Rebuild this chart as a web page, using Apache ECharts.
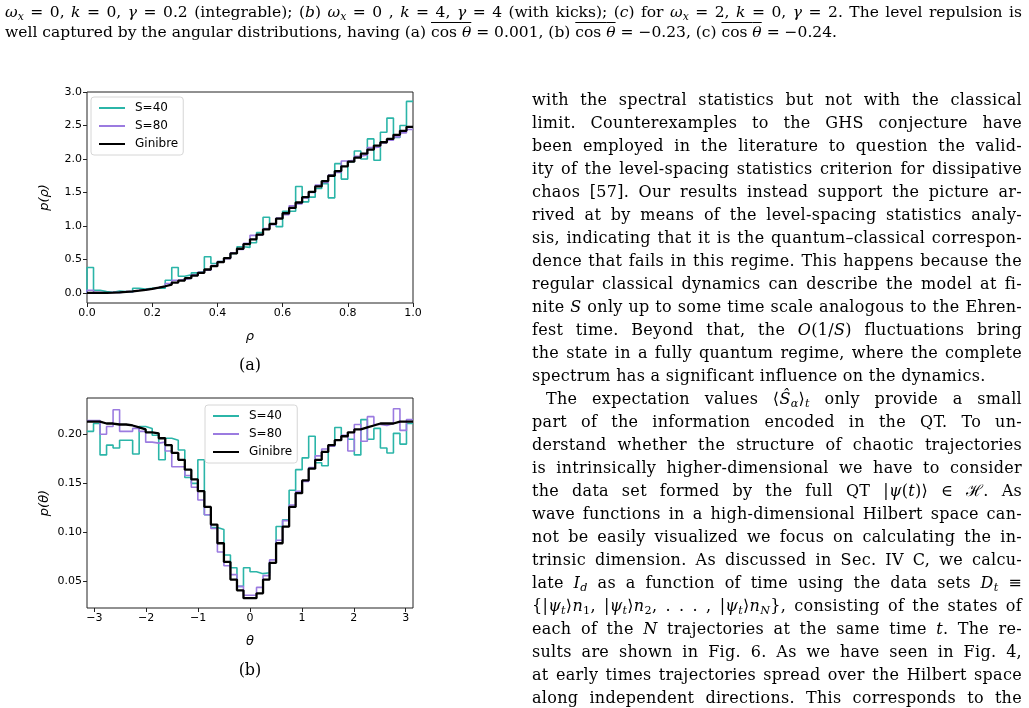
<!DOCTYPE html>
<html>
<head>
<meta charset="utf-8">
<title>p(rho) / p(theta)</title>
<script src="https://cdn.jsdelivr.net/npm/echarts@6/dist/echarts.min.js"></script>
<style>
  body { margin: 0; padding: 0; background: #fff; overflow: hidden; }
  #main { position: absolute; left: 0; top: 0; width: 1029px; height: 708px; }
  .tx { position: absolute; font-family: 'DejaVu Serif', 'Liberation Serif', serif; font-size: 16px; letter-spacing: 0.3px; color: #000; }
  .tx.cap { font-size: 15.5px; letter-spacing: 0; }
  .ln { height: 23px; line-height: 23px; white-space: nowrap; text-align: justify; text-align-last: justify; }
  .cap .ln { height: 20px; line-height: 20px; }
  .ln.last { text-align: left; text-align-last: left; }
  .ln.ind { text-indent: 14px; }
  sub { font-size: 0.7em; line-height: 0; vertical-align: -0.25em; }
  .ov { text-decoration: overline; }
  .lbl { position: absolute; width: 100px; text-align: center; font-family: 'DejaVu Serif', serif; font-size: 16px; }
</style>
</head>
<body>
<div id="main"></div>

<div class="tx cap" style="left:5px; top:2px; width:1017px;">
  <div class="ln"><i>ω<sub>x</sub></i> = 0, <i>k</i> = 0, <i>γ</i> = 0.2 (integrable); (<i>b</i>) <i>ω<sub>x</sub></i> = 0 , <i>k</i> = 4, <i>γ</i> = 4 (with kicks); (<i>c</i>) for <i>ω<sub>x</sub></i> = 2, <i>k</i> = 0, <i>γ</i> = 2. The level repulsion is</div>
  <div class="ln last">well captured by the angular distributions, having (a) <span class="ov">cos <i>θ</i></span> = 0.001, (b) <span class="ov">cos <i>θ</i></span> = −0.23, (c) <span class="ov">cos <i>θ</i></span> = −0.24.</div>
</div>

<div class="tx" style="left:532px; top:88px; width:490px;">
  <div class="ln">with the spectral statistics but not with the classical</div>
  <div class="ln">limit. Counterexamples to the GHS conjecture have</div>
  <div class="ln">been employed in the literature to question the valid-</div>
  <div class="ln">ity of the level-spacing statistics criterion for dissipative</div>
  <div class="ln">chaos [57]. Our results instead support the picture ar-</div>
  <div class="ln">rived at by means of the level-spacing statistics analy-</div>
  <div class="ln">sis, indicating that it is the quantum–classical correspon-</div>
  <div class="ln">dence that fails in this regime. This happens because the</div>
  <div class="ln">regular classical dynamics can describe the model at fi-</div>
  <div class="ln">nite <i>S</i> only up to some time scale analogous to the Ehren-</div>
  <div class="ln">fest time. Beyond that, the <i>O</i>(1/<i>S</i>) fluctuations bring</div>
  <div class="ln">the state in a fully quantum regime, where the complete</div>
  <div class="ln last">spectrum has a significant influence on the dynamics.</div>
  <div class="ln ind">The expectation values ⟨<i>Ŝ<sub>α</sub></i>⟩<sub><i>t</i></sub> only provide a small</div>
  <div class="ln">part of the information encoded in the QT. To un-</div>
  <div class="ln">derstand whether the structure of chaotic trajectories</div>
  <div class="ln">is intrinsically higher-dimensional we have to consider</div>
  <div class="ln">the data set formed by the full QT |<i>ψ</i>(<i>t</i>)⟩ ∈ ℋ. As</div>
  <div class="ln">wave functions in a high-dimensional Hilbert space can-</div>
  <div class="ln">not be easily visualized we focus on calculating the in-</div>
  <div class="ln">trinsic dimension. As discussed in Sec. IV C, we calcu-</div>
  <div class="ln">late <i>I<sub>d</sub></i> as a function of time using the data sets <i>D</i><sub><i>t</i></sub> ≡</div>
  <div class="ln">{|<i>ψ<sub>t</sub></i>⟩<i>n</i><sub>1</sub>, |<i>ψ<sub>t</sub></i>⟩<i>n</i><sub>2</sub>, . . . , |<i>ψ<sub>t</sub></i>⟩<i>n<sub>N</sub></i>}, consisting of the states of</div>
  <div class="ln">each of the <i>N</i> trajectories at the same time <i>t</i>. The re-</div>
  <div class="ln">sults are shown in Fig. 6. As we have seen in Fig. 4,</div>
  <div class="ln">at early times trajectories spread over the Hilbert space</div>
  <div class="ln">along independent directions. This corresponds to the</div>
</div>

<div class="lbl" style="left:200px; top:355px;">(a)</div>
<div class="lbl" style="left:200px; top:660px;">(b)</div>

<script>
  // 径向分布 p(rho)，50 个区间，0..1
  var rhoGinibre = [0.000, 0.001, 0.002, 0.005, 0.009, 0.015, 0.023, 0.034, 0.047, 0.062,
    0.080, 0.100, 0.125, 0.155, 0.185, 0.220, 0.260, 0.300, 0.350, 0.400,
    0.460, 0.520, 0.590, 0.660, 0.730, 0.800, 0.870, 0.950, 1.030, 1.110,
    1.190, 1.270, 1.350, 1.430, 1.510, 1.590, 1.670, 1.750, 1.820, 1.890,
    1.960, 2.020, 2.080, 2.140, 2.200, 2.250, 2.300, 2.360, 2.420, 2.480];
  var rhoS80 = [0.040, 0.010, 0.000, 0.010, 0.005, 0.020, 0.020, 0.040, 0.050, 0.060,
    0.080, 0.100, 0.140, 0.190, 0.200, 0.220, 0.270, 0.310, 0.340, 0.410,
    0.470, 0.510, 0.600, 0.650, 0.740, 0.860, 0.870, 0.960, 1.020, 1.120,
    1.170, 1.300, 1.330, 1.420, 1.500, 1.610, 1.650, 1.760, 1.800, 1.970,
    1.980, 2.040, 2.060, 2.170, 2.180, 2.240, 2.280, 2.330, 2.390, 2.440];
  var rhoS40 = [0.380, 0.040, 0.020, 0.010, 0.030, 0.020, 0.010, 0.070, 0.060, 0.070,
    0.070, 0.070, 0.190, 0.380, 0.250, 0.270, 0.300, 0.320, 0.540, 0.440,
    0.470, 0.520, 0.590, 0.690, 0.680, 0.750, 0.900, 1.130, 1.030, 0.990,
    1.220, 1.220, 1.590, 1.360, 1.430, 1.560, 1.630, 1.420, 1.930, 1.700,
    1.960, 2.120, 2.000, 2.300, 1.980, 2.400, 2.610, 2.320, 2.500, 2.860];

  // 角分布 p(theta)，50 个区间，-pi..pi
  var thetaGinibre = [0.213, 0.213, 0.211, 0.211, 0.210, 0.210, 0.209, 0.207, 0.205, 0.202,
    0.201, 0.196, 0.189, 0.181, 0.174, 0.164, 0.154, 0.142, 0.126, 0.108,
    0.089, 0.070, 0.052, 0.041, 0.033, 0.033, 0.038, 0.052, 0.069, 0.089,
    0.106, 0.126, 0.140, 0.153, 0.165, 0.174, 0.182, 0.189, 0.194, 0.198,
    0.202, 0.205, 0.207, 0.209, 0.211, 0.211, 0.211, 0.213, 0.213, 0.213];
  var thetaS80 = [0.214, 0.214, 0.200, 0.208, 0.225, 0.203, 0.203, 0.206, 0.203, 0.192,
    0.191, 0.192, 0.183, 0.167, 0.167, 0.158, 0.146, 0.133, 0.118, 0.104,
    0.080, 0.066, 0.057, 0.045, 0.036, 0.036, 0.044, 0.056, 0.072, 0.092,
    0.112, 0.128, 0.142, 0.152, 0.166, 0.178, 0.185, 0.188, 0.194, 0.199,
    0.183, 0.210, 0.193, 0.218, 0.210, 0.209, 0.211, 0.226, 0.204, 0.215];
  var thetaS40 = [0.203, 0.211, 0.179, 0.189, 0.186, 0.194, 0.194, 0.180, 0.208, 0.206,
    0.199, 0.174, 0.196, 0.194, 0.184, 0.156, 0.150, 0.174, 0.118, 0.105,
    0.103, 0.077, 0.064, 0.045, 0.064, 0.060, 0.058, 0.059, 0.069, 0.106,
    0.113, 0.143, 0.164, 0.176, 0.198, 0.171, 0.168, 0.188, 0.207, 0.198,
    0.195, 0.179, 0.215, 0.195, 0.206, 0.186, 0.181, 0.201, 0.190, 0.211];

  var rhoXTicks = [0, 0.2, 0.4, 0.6, 0.8, 1.0];
  var rhoYTicks = [0, 0.5, 1.0, 1.5, 2.0, 2.5, 3.0];
  var thetaXTicks = [-3, -2, -1, 0, 1, 2, 3];
  var thetaYTicks = [0.05, 0.10, 0.15, 0.20];

  var names = ['S=40', 'S=80', 'Ginibre'];
  var colors = ['#2bb5a8', '#9b7be0', '#000000'];
  var widths = [1.6, 1.6, 2.3];

  // 直方图阶梯线：每个区间左端点 + 最后的右端点
  function stepData(vals, lo, hi, fromZero) {
    var w = (hi - lo) / vals.length;
    var pts = vals.map(function (v, i) { return [lo + i * w, v]; });
    pts.push([hi, vals[vals.length - 1]]);
    if (fromZero) pts.unshift([lo, 0]);
    return pts;
  }

  function minus(v) { return v < 0 ? '\u2212' + (-v) : String(v); }

  var tickFont = { color: '#000', fontSize: 11, fontFamily: 'DejaVu Sans', margin: 5 };
  var nameFont = { color: '#000', fontSize: 13, fontFamily: 'DejaVu Sans', fontStyle: 'italic' };

  function xAxisOf(gi, min, max, ticks, fmt, name) {
    return {
      gridIndex: gi, type: 'value', min: min, max: max,
      axisLine: { show: false, onZero: false }, splitLine: { show: false },
      axisTick: { customValues: ticks, length: 4, lineStyle: { color: '#222' } },
      axisLabel: Object.assign({ customValues: ticks, formatter: fmt }, tickFont),
      name: name, nameLocation: 'middle', nameGap: 27, nameTextStyle: nameFont
    };
  }
  function yAxisOf(gi, min, max, ticks, fmt, name) {
    return {
      gridIndex: gi, type: 'value', min: min, max: max,
      axisLine: { show: false, onZero: false }, splitLine: { show: false },
      axisTick: { customValues: ticks, length: 4, lineStyle: { color: '#222' } },
      axisLabel: Object.assign({ customValues: ticks, formatter: fmt }, tickFont),
      name: name, nameLocation: 'middle', nameGap: 36, nameRotate: 90, nameTextStyle: nameFont
    };
  }

  function legendAt(left, top) {
    return {
      left: left, top: top, orient: 'vertical', data: names,
      itemWidth: 26, itemHeight: 14, itemGap: 6,
      padding: [5, 5, 5, 7],
      backgroundColor: 'rgba(255,255,255,0.85)',
      borderColor: '#d6d6d6', borderWidth: 1, borderRadius: 3,
      itemStyle: { opacity: 0 },
      textStyle: { color: '#000', fontSize: 12, fontFamily: 'DejaVu Sans', padding: [0, 0, 0, 5] },
      selectedMode: false
    };
  }

  var series = [];
  var sets = [[rhoS40, rhoS80, rhoGinibre], [thetaS40, thetaS80, thetaGinibre]];
  sets.forEach(function (group, gi) {
    group.forEach(function (vals, i) {
      series.push({
        name: names[i], type: 'line', step: 'end',
        xAxisIndex: gi, yAxisIndex: gi,
        symbol: 'none', animation: false,
        lineStyle: { color: colors[i], width: widths[i] },
        itemStyle: { color: colors[i] },
        data: gi === 0 ? stepData(vals, 0, 1, true) : stepData(vals, -Math.PI, Math.PI, false)
      });
    });
  });

  var myChart = echarts.init(document.getElementById('main'));
  var option = {
    animation: false,
    grid: [
      { left: 87, top: 92, width: 326, height: 211, show: true, borderColor: '#222', borderWidth: 1, backgroundColor: 'transparent' },
      { left: 87, top: 398, width: 326, height: 210, show: true, borderColor: '#222', borderWidth: 1, backgroundColor: 'transparent' }
    ],
    xAxis: [
      xAxisOf(0, 0, 1, rhoXTicks, function (v) { return v.toFixed(1); }, 'ρ'),
      xAxisOf(1, -Math.PI, Math.PI, thetaXTicks, minus, 'θ')
    ],
    yAxis: [
      yAxisOf(0, -0.15, 3.0, rhoYTicks, function (v) { return v.toFixed(1); }, 'p(ρ)'),
      yAxisOf(1, 0.023, 0.237, thetaYTicks, function (v) { return v.toFixed(2); }, 'p(θ)')
    ],
    legend: [legendAt(91, 97), legendAt(205, 405)],
    series: series
  };
  myChart.setOption(option);
</script>
</body>
</html>
